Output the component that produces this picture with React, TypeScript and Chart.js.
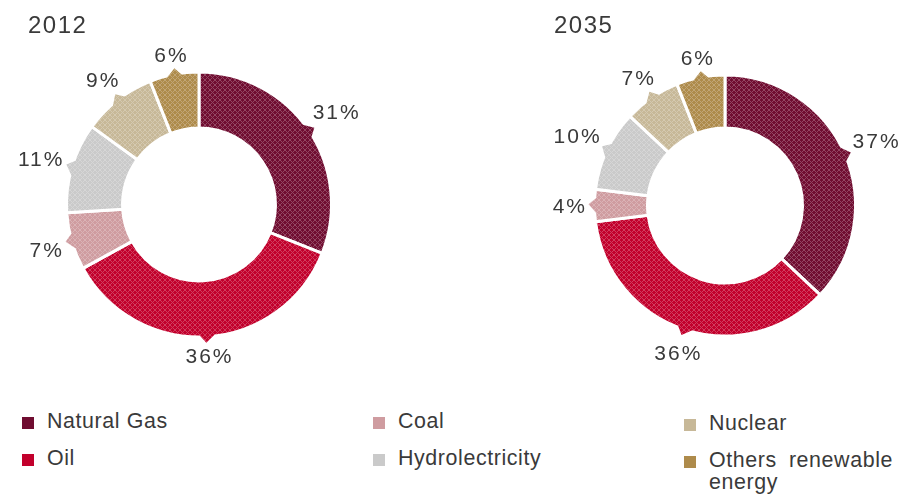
import React, { useEffect, useRef } from "react";
import { Chart, registerables } from "chart.js";

Chart.register(...registerables);

// ---- data ----
const categories = ["Natural Gas", "Oil", "Coal", "Hydrolectricity", "Nuclear", "Others renewable energy"];
const years = ["2012", "2035"];
const values2012 = [31, 36, 7, 11, 9, 6];
const values2035 = [37, 36, 4, 10, 7, 6];

// ---- styles ----
const colors = ["#700d31", "#c2002c", "#cf9ca0", "#cacaca", "#c7b898", "#ae8b4b"];
const TEXT = "#3a3a3a";

function makePattern(ctx: CanvasRenderingContext2D, color: string) {
  const c = document.createElement("canvas");
  c.width = 5;
  c.height = 5;
  const g = c.getContext("2d")!;
  g.fillStyle = color;
  g.fillRect(0, 0, 5, 5);
  g.fillStyle = "rgba(255,255,255,0.24)";
  for (let i = 0; i < 5; i++) {
    g.fillRect(i, i, 1, 1);
    if (4 - i !== i) g.fillRect(4 - i, i, 1, 1);
  }
  return ctx.createPattern(c, "repeat");
}

const calloutPlugin: any = {
  id: "callouts",
  afterDatasetsDraw(chart: any) {
    const ctx = chart.ctx as CanvasRenderingContext2D;
    const meta = chart.getDatasetMeta(0);
    const ds = chart.data.datasets[0];
    meta.data.forEach((arc: any, i: number) => {
      const { x, y, startAngle, endAngle, outerRadius } = arc.getProps(
        ["x", "y", "startAngle", "endAngle", "outerRadius"],
        true
      );
      const mid = (startAngle + endAngle) / 2;
      const R = outerRadius - 1.5;
      const half = 7.5 / R;
      const p = (r: number, a: number) => [x + r * Math.cos(a), y + r * Math.sin(a)];
      ctx.save();
      ctx.beginPath();
      let q = p(R - 3, mid - half);
      ctx.moveTo(q[0], q[1]);
      q = p(R, mid - half);
      ctx.lineTo(q[0], q[1]);
      q = p(R + 7.5, mid + 0.01);
      ctx.lineTo(q[0], q[1]);
      q = p(R, mid + half);
      ctx.lineTo(q[0], q[1]);
      q = p(R - 3, mid + half);
      ctx.lineTo(q[0], q[1]);
      ctx.closePath();
      ctx.fillStyle = ds.backgroundColor[i];
      ctx.fill();
      ctx.restore();
    });
  },
  afterDraw(chart: any, _args: any, opts: any) {
    const ctx = chart.ctx as any;
    const meta = chart.getDatasetMeta(0);
    const ds = chart.data.datasets[0];
    ctx.save();
    ctx.fillStyle = TEXT;
    ctx.textAlign = "left";
    ctx.textBaseline = "alphabetic";
    // title
    ctx.font = "24px 'Liberation Sans', Arial, sans-serif";
    ctx.letterSpacing = "1.5px";
    ctx.fillText(opts.title, opts.titleX, 32.5);
    // percentage labels
    const fs = 21;
    const ls = 2;
    ctx.font = fs + "px 'Liberation Sans', Arial, sans-serif";
    ctx.letterSpacing = ls + "px";
    meta.data.forEach((arc: any, i: number) => {
      const { x, y, startAngle, endAngle, outerRadius } = arc.getProps(
        ["x", "y", "startAngle", "endAngle", "outerRadius"],
        true
      );
      const mid = (startAngle + endAngle) / 2;
      const R = outerRadius - 1.5;
      const text = ds.data[i] + "%";
      const w = ctx.measureText(text).width - ls;
      const hw = w / 2;
      const hh = 7.5;
      const c = Math.cos(mid);
      const s = Math.sin(mid);
      const rl = R + 11 + hw * Math.abs(c) + hh * Math.abs(s);
      const px = x + rl * c;
      const py = y + rl * s;
      ctx.fillText(text, px - hw, py + (0.729 * fs) / 2);
    });
    ctx.restore();
  },
};

type DonutProps = {
  values: number[];
  title: string;
  titleX: number;
  left: number;
  padding: { left: number; right: number; top: number; bottom: number };
  cutout: string;
};

function Donut({ values, title, titleX, left, padding, cutout }: DonutProps) {
  const ref = useRef<HTMLCanvasElement>(null);
  useEffect(() => {
    const canvas = ref.current!;
    const ctx = canvas.getContext("2d")!;
    const patterns = colors.map((c) => makePattern(ctx, c));
    const chart = new Chart(canvas, {
      type: "doughnut",
      data: {
        labels: categories,
        datasets: [
          {
            data: values,
            backgroundColor: patterns as any,
            borderColor: "#ffffff",
            borderWidth: 3,
            hoverOffset: 0,
          },
        ],
      },
      options: {
        responsive: false,
        animation: false,
        events: [],
        cutout,
        layout: { padding },
        plugins: {
          legend: { display: false },
          tooltip: { enabled: false },
          callouts: { title, titleX },
        } as any,
      },
      plugins: [calloutPlugin],
    });
    return () => chart.destroy();
  }, []);
  return (
    <canvas
      ref={ref}
      width={453}
      height={390}
      style={{ position: "absolute", left, top: 0, width: 453, height: 390 }}
    />
  );
}

const legendCols = [22, 373, 684];
const legendRows = [410, 447];

export default function App() {
  return (
    <div
      style={{
        position: "fixed",
        left: 0,
        top: 0,
        width: 907,
        height: 498,
        background: "#ffffff",
        overflow: "hidden",
      }}
    >
      <Donut
        values={values2012}
        title={years[0]}
        titleX={28}
        left={0}
        padding={{ left: 65, right: 120, top: 70.5, bottom: 51.5 }}
        cutout="57.7%"
      />
      <Donut
        values={values2035}
        title={years[1]}
        titleX={100}
        left={454}
        padding={{ left: 139, right: 50, top: 73.5, bottom: 52.5 }}
        cutout="59.4%"
      />
      {categories.map((cat, i) => {
        const col = Math.floor(i / 2);
        const row = i % 2;
        const x = legendCols[col];
        const y = legendRows[row] + (col === 2 ? 1.5 : 0);
        return (
          <div key={cat} style={{ position: "absolute", left: x, top: y }}>
            <div
              style={{
                position: "absolute",
                left: 0,
                top: 7,
                width: 12,
                height: 12,
                background: colors[i],
              }}
            />
            <div
              style={{
                position: "absolute",
                left: 25,
                top: 0,
                width: col === 2 ? 184 : 300,
                fontFamily: "'Liberation Sans', Arial, sans-serif",
                fontSize: 21.4,
                lineHeight: "22px",
                letterSpacing: "0.6px",
                color: TEXT,
                textAlign: col === 2 ? "justify" : "left",
              }}
            >
              {cat}
            </div>
          </div>
        );
      })}
    </div>
  );
}
